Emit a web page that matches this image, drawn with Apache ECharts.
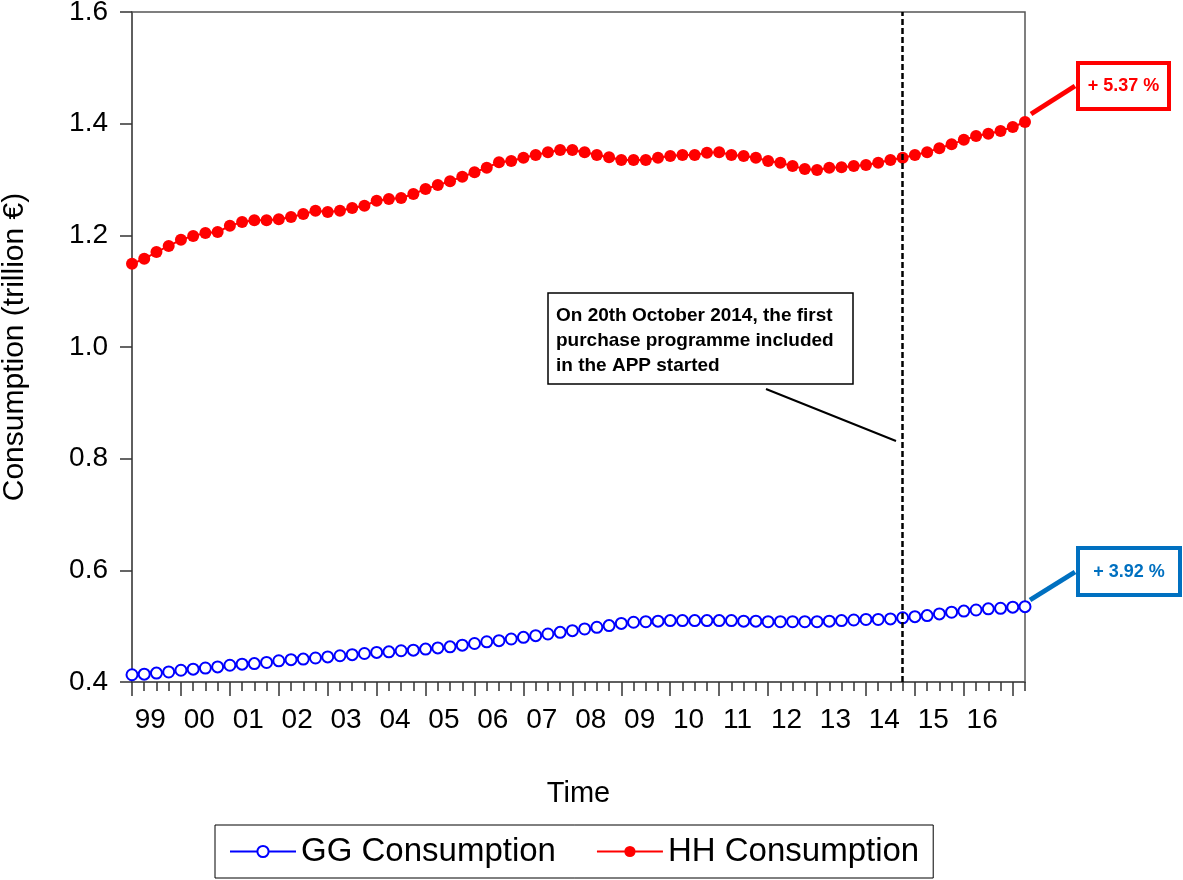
<!DOCTYPE html>
<html><head><meta charset="utf-8">
<script src="https://cdn.jsdelivr.net/npm/echarts@6/dist/echarts.min.js"></script>
<style>html,body{margin:0;padding:0;background:#fff}#c{width:1183px;height:880px}</style>
</head><body><div id="c"></div>
<script>
// Quarterly data, 1999Q1 .. 2017Q2 (index 0 = 1999Q1)
const hhConsumption = [
  1.149,1.158,1.170,1.181,
  1.192,1.199,1.204,1.206,
  1.217,1.224,1.227,1.227,
  1.229,1.233,1.238,1.244,
  1.242,1.244,1.249,1.253,
  1.262,1.265,1.267,1.274,
  1.283,1.290,1.297,1.305,
  1.313,1.321,1.331,1.333,
  1.339,1.344,1.349,1.353,
  1.353,1.349,1.344,1.340,
  1.335,1.335,1.335,1.339,
  1.342,1.344,1.344,1.348,
  1.349,1.344,1.342,1.339,
  1.333,1.330,1.324,1.319,
  1.317,1.321,1.322,1.324,
  1.326,1.330,1.335,1.339,
  1.344,1.349,1.356,1.363,
  1.371,1.378,1.382,1.387,
  1.394,1.403
];
const ggConsumption = [
  0.413,0.414,0.416,0.418,
  0.421,0.423,0.425,0.427,
  0.430,0.432,0.433,0.435,
  0.438,0.440,0.441,0.443,
  0.445,0.447,0.449,0.451,
  0.453,0.454,0.456,0.457,
  0.459,0.461,0.463,0.466,
  0.469,0.472,0.474,0.477,
  0.480,0.483,0.486,0.489,
  0.492,0.495,0.498,0.501,
  0.505,0.507,0.508,0.509,
  0.510,0.510,0.510,0.510,
  0.510,0.510,0.509,0.509,
  0.508,0.508,0.508,0.508,
  0.508,0.509,0.510,0.511,
  0.512,0.512,0.513,0.515,
  0.517,0.519,0.522,0.525,
  0.527,0.529,0.531,0.532,
  0.534,0.535
];
const yearLabels = ['99','00','01','02','03','04','05','06','07','08','09','10','11','12','13','14','15','16'];
const yMin = 0.4, yMax = 1.6, yStep = 0.2;
const appStartIndex = 63; // 2014Q4
const seriesNames = ['GG Consumption', 'HH Consumption'];
const noteText = 'On 20th October 2014, the first\npurchase programme included\nin the APP started';
const hhChangeText = '+ 5.37 %';
const ggChangeText = '+ 3.92 %';

const lastIndex = hhConsumption.length - 1;
const majorTicks = [];
const labelPositions = [];
for (let i = 0; i < yearLabels.length; i++) { majorTicks.push(i * 4); labelPositions.push(i * 4 + 1.5); }
majorTicks.push(yearLabels.length * 4);

const FONT = "'Liberation Sans', Arial, sans-serif";
const chart = echarts.init(document.getElementById('c'), null, {renderer: 'canvas'});
chart.setOption({
  animation: false,
  backgroundColor: '#fff',
  textStyle: {fontFamily: FONT},
  grid: {left: 132, right: 158, top: 12, bottom: 198, show: true, borderColor: '#555', borderWidth: 1.5,
         backgroundColor: 'transparent', containLabel: false, outerBoundsMode: 'none'},
  legend: {
    data: seriesNames, left: 215, top: 825, padding: [10, 14], itemGap: 40,
    itemWidth: 66, itemHeight: 14,
    borderColor: '#000', borderWidth: 1,
    textStyle: {fontSize: 33, color: '#000', fontFamily: FONT}
  },
  xAxis: [
    {type: 'value', min: 0, max: lastIndex, interval: 1, position: 'bottom',
     axisLine: {show: true, lineStyle: {color: '#555', width: 1.5}},
     axisTick: {show: true, length: 9, lineStyle: {color: '#333', width: 1.5}},
     axisLabel: {show: false}, splitLine: {show: false}},
    {type: 'value', min: 0, max: lastIndex, position: 'bottom',
     axisLine: {show: false},
     axisTick: {show: true, customValues: majorTicks, length: 14, lineStyle: {color: '#333', width: 1.5}},
     axisLabel: {show: true, customValues: labelPositions, fontSize: 28, color: '#000', margin: 24,
       formatter: v => yearLabels[Math.floor(v / 4)] || ''},
     splitLine: {show: false},
     name: 'Time', nameLocation: 'middle', nameGap: 97,
     nameTextStyle: {fontSize: 29, color: '#000'}}
  ],
  yAxis: {
    type: 'value', min: yMin, max: yMax, interval: yStep,
    axisLine: {show: true, lineStyle: {color: '#555', width: 1.5}},
    axisTick: {show: true, length: 12, lineStyle: {color: '#333', width: 1.5}},
    axisLabel: {fontSize: 28, color: '#000', margin: 24, formatter: v => v.toFixed(1)},
    splitLine: {show: false},
    name: 'Consumption (trillion €)', nameLocation: 'middle', nameGap: 102, nameRotate: 90,
    nameTextStyle: {fontSize: 30, color: '#000'}
  },
  series: [
    {name: seriesNames[0], type: 'line', xAxisIndex: 0,
     data: ggConsumption.map((v, i) => [i, v]),
     symbol: 'emptyCircle', symbolSize: 11, showAllSymbol: true,
     lineStyle: {color: '#0000ff', width: 2},
     itemStyle: {color: '#0000ff', borderColor: '#0000ff', borderWidth: 2}},
    {name: seriesNames[1], type: 'line', xAxisIndex: 0,
     data: hhConsumption.map((v, i) => [i, v]),
     symbol: 'circle', symbolSize: 12, showAllSymbol: true,
     lineStyle: {color: '#ff0000', width: 2},
     itemStyle: {color: '#ff0000'},
     markLine: {silent: true, symbol: 'none', label: {show: false},
       lineStyle: {color: '#000', type: [6, 3], width: 2.5},
       data: [{xAxis: appStartIndex}]}}
  ],
  graphic: [
    // note box
    {type: 'rect', shape: {x: 548, y: 293, width: 305, height: 91},
     style: {fill: '#fff', stroke: '#000', lineWidth: 1.5}, z: 100},
    {type: 'text', x: 556, y: 303, z: 101,
     style: {text: noteText, font: "bold 19px " + FONT, fill: '#000', lineHeight: 25, textVerticalAlign: 'top'}},
    {type: 'line', shape: {x1: 766, y1: 389, x2: 896, y2: 441},
     style: {stroke: '#000', lineWidth: 2}, z: 100},
    // HH change box
    {type: 'line', shape: {x1: 1031, y1: 114, x2: 1075, y2: 86},
     style: {stroke: '#ff0000', lineWidth: 5}, z: 100},
    {type: 'rect', shape: {x: 1078, y: 63, width: 91, height: 46},
     style: {fill: '#fff', stroke: '#ff0000', lineWidth: 4}, z: 100},
    {type: 'text', x: 1123.5, y: 86.5, z: 101,
     style: {text: hhChangeText, font: "bold 18px " + FONT, fill: '#ff0000', textAlign: 'center', textVerticalAlign: 'middle'}},
    // GG change box
    {type: 'line', shape: {x1: 1030, y1: 600, x2: 1075, y2: 572},
     style: {stroke: '#0070c0', lineWidth: 5}, z: 100},
    {type: 'rect', shape: {x: 1078, y: 548, width: 102, height: 47},
     style: {fill: '#fff', stroke: '#0070c0', lineWidth: 4}, z: 100},
    {type: 'text', x: 1129, y: 572, z: 101,
     style: {text: ggChangeText, font: "bold 18px " + FONT, fill: '#0070c0', textAlign: 'center', textVerticalAlign: 'middle'}}
  ]
});
</script>
</body></html>
